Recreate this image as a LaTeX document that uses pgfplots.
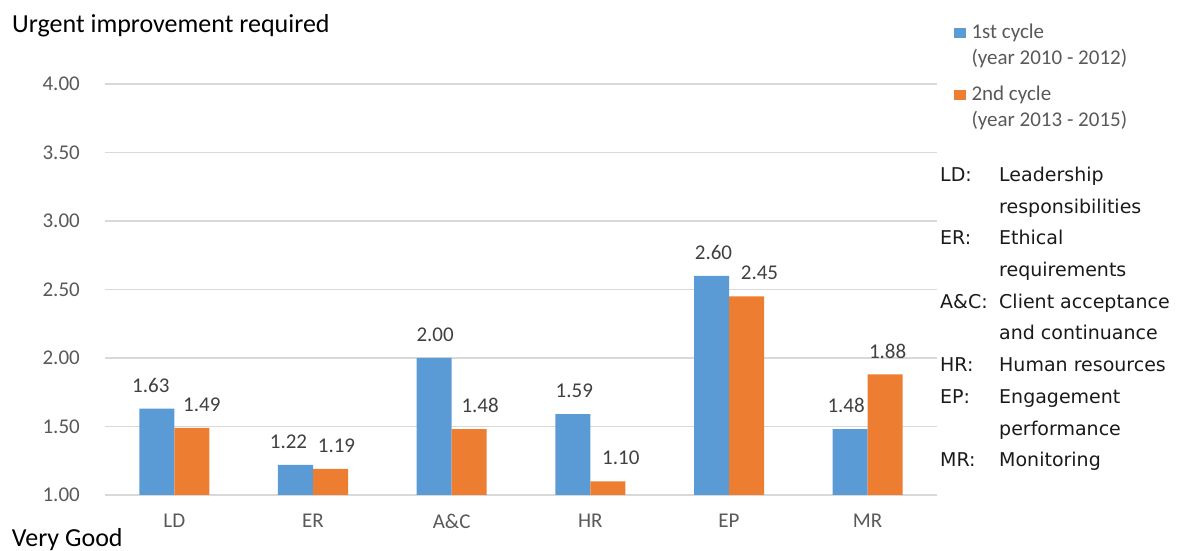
\documentclass[border=0pt]{standalone}
\usepackage{fontspec}
\setmainfont{Carlito}
\newfontfamily\notefont{DejaVu Sans}
\usepackage{pgfplots}
\pgfplotsset{compat=1.18}
\usepackage{pgfplotstable}

\definecolor{cycleone}{HTML}{5B9BD5}
\definecolor{cycletwo}{HTML}{ED7D31}
\definecolor{gridgray}{HTML}{D9D9D9}
\definecolor{ticktext}{HTML}{595959}
\definecolor{valtext}{HTML}{404040}
\definecolor{notetext}{HTML}{1A1A1A}

% square swatches in the legend, level with the first line of each entry
\pgfplotsset{
  /pgfplots/ybar legend/.style={
    /pgfplots/legend image code/.code={\fill[##1] (0pt,-4pt) rectangle (11.5pt,-14.5pt);}
  }
}

% scores per area; dx nudges the value label sideways
\pgfplotstableread{
x y dx
0 1.63 -6
1 1.22 -7
2 2.00 1
3 1.59 1.5
4 2.60 2
5 1.48 -4
}\firstcycle
\pgfplotstableread{
x y dx
0 1.49 10
1 1.19 6
2 1.48 11
3 1.10 13
4 2.45 13
5 1.88 2.5
}\secondcycle

\begin{document}
\begin{tikzpicture}[x=1pt,y=1pt]
\path[use as bounding box] (-105,-56) rectangle (1073,495);
\begin{axis}[
  at={(0,0)}, anchor=south west,
  scale only axis, width=832pt, height=411pt,
  xmin=-0.5, xmax=5.5, ymin=1, ymax=4,
  ybar=0pt, bar width=35pt,
  axis line style={draw=none},
  major tick length=0pt,
  ymajorgrids, major grid style={gridgray, line width=1.3pt},
  ytick={1,1.5,2,2.5,3,3.5,4},
  xtick={0,1,2,3,4,5},
  xticklabels={LD,ER,A\&C,HR,EP,MR},
  /pgf/number format/assume math mode=true,
  yticklabel style={font=\fontsize{21}{25}\selectfont, text=ticktext, anchor=east, inner sep=0pt, xshift=-25pt,
    /pgf/number format/fixed, /pgf/number format/fixed zerofill, /pgf/number format/precision=2},
  xticklabel style={font=\fontsize{21}{25}\selectfont, text=ticktext, anchor=north, inner sep=0pt, yshift=-19pt},
  nodes near coords,
  visualization depends on={\thisrow{dx} \as \dx},
  nodes near coords style={font=\fontsize{21}{25}\selectfont, text=valtext, anchor=south, inner sep=0pt,
    yshift=16pt, xshift=\dx pt,
    /pgf/number format/fixed, /pgf/number format/fixed zerofill, /pgf/number format/precision=2},
  legend style={at={(1.02043,1.14647)}, anchor=north west, draw=none, fill=none,
    inner sep=0pt, outer sep=0pt, font=\fontsize{21}{26}\selectfont, text=ticktext,
    row sep=21.5pt, nodes={inner sep=0pt, text depth=0pt},
    cells={anchor=north west, align=left},
    /tikz/every odd column/.append style={column sep=6pt}},
]
\addplot[fill=cycleone, draw=none] table[x=x, y=y] {\firstcycle};
\addlegendentry{1st cycle\\(year 2010 - 2012)}
\addplot[fill=cycletwo, draw=none] table[x=x, y=y] {\secondcycle};
\addlegendentry{2nd cycle\\(year 2013 - 2015)}
\end{axis}

% end labels of the rating scale
\node[anchor=base west, inner sep=0pt, font=\fontsize{26}{31}\selectfont] at (-93,462.5) {Urgent improvement required};
\node[anchor=base west, inner sep=0pt, font=\fontsize{26}{31}\selectfont] at (-93.3,-51.5) {Very Good};

% key to the abbreviations
\begin{scope}[every node/.style={anchor=base west, inner sep=0pt, text=notetext, font=\notefont\fontsize{19}{23}\selectfont}]
\node at (835,313.5) {LD:};   \node at (894,313.5) {Leadership};
\node at (894,281.8) {responsibilities};
\node at (835,250.1) {ER:};   \node at (894,250.1) {Ethical};
\node at (894,218.4) {requirements};
\node at (835,186.7) {A\&C:}; \node at (894,186.7) {Client acceptance};
\node at (894,155.0) {and continuance};
\node at (835,123.3) {HR:};   \node at (894,123.3) {Human resources};
\node at (835,91.6)  {EP:};   \node at (894,91.6)  {Engagement};
\node at (894,59.9)  {performance};
\node at (835,28.2)  {MR:};   \node at (894,28.2)  {Monitoring};
\end{scope}
\end{tikzpicture}
\end{document}
